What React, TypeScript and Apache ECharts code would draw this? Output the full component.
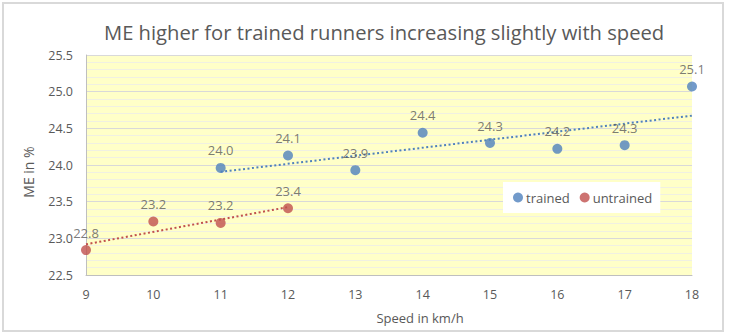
import React, { useEffect, useRef } from "react";
import * as echarts from "echarts";

const speeds = [9, 10, 11, 12, 13, 14, 15, 16, 17, 18];
const trainedSpeed = [11, 12, 13, 14, 15, 16, 17, 18];
const trainedME = [23.96, 24.13, 23.93, 24.44, 24.3, 24.22, 24.27, 25.07];
const untrainedSpeed = [9, 10, 11, 12];
const untrainedME = [22.84, 23.23, 23.21, 23.41];
const seriesNames = ["trained", "untrained"];
const titleText = "ME higher for trained runners increasing slightly with speed";
const xAxisTitle = "Speed in km/h";
const yAxisTitle = "ME in %";

function fit(xs: number[], ys: number[]): number[][] {
  const n = xs.length;
  const mx = xs.reduce((a, b) => a + b, 0) / n;
  const my = ys.reduce((a, b) => a + b, 0) / n;
  let sxy = 0;
  let sxx = 0;
  for (let i = 0; i < n; i++) {
    sxy += (xs[i] - mx) * (ys[i] - my);
    sxx += (xs[i] - mx) * (xs[i] - mx);
  }
  const b = sxy / sxx;
  const a = my - b * mx;
  const x0 = xs[0];
  const x1 = xs[n - 1];
  return [
    [x0, a + b * x0],
    [x1, a + b * x1],
  ];
}

export default function App() {
  const ref = useRef<HTMLDivElement>(null);
  useEffect(() => {
    document.body.style.margin = "0";
    const chart = echarts.init(ref.current!, undefined, { renderer: "svg" });
    const font = "'Open Sans', 'Noto Sans', sans-serif";
    const gray = "#595959";
    const blue = "#4F81BD";
    const red = "#C0504D";
    const labelCfg = {
      show: true,
      position: "top" as const,
      distance: 6,
      color: gray,
      fontSize: 13,
      fontFamily: font,
      formatter: (p: any) => p.value[1].toFixed(1),
    };
    chart.setOption({
      animation: false,
      backgroundColor: "#fff",
      textStyle: { fontFamily: font },
      title: {
        text: titleText,
        left: 99,
        top: 17,
        textStyle: { fontSize: 20.2, fontWeight: "normal", color: gray, fontFamily: font },
      },
      graphic: [
        {
          type: "rect",
          shape: { x: 3, y: 3, width: 720, height: 328 },
          style: { fill: "none", stroke: "#D9D9D9", lineWidth: 2 },
          silent: true,
        },
        {
          type: "text",
          x: 420,
          y: 318,
          style: {
            text: xAxisTitle,
            fill: gray,
            fontSize: 13,
            fontFamily: font,
            align: "center",
            verticalAlign: "middle",
          },
          silent: true,
        },
        {
          type: "text",
          x: 28,
          y: 172,
          rotation: Math.PI / 2,
          style: {
            text: yAxisTitle,
            fill: gray,
            fontSize: 14,
            fontFamily: font,
            align: "center",
            verticalAlign: "middle",
          },
          silent: true,
        },
      ],
      legend: {
        data: seriesNames,
        left: 503,
        top: 182,
        backgroundColor: "#fff",
        padding: [9, 8, 9, 10],
        itemGap: 10,
        itemWidth: 10,
        itemHeight: 10,
        icon: "circle",
        textStyle: { color: gray, fontSize: 13, fontFamily: font, padding: [0, 0, 0, -2] },
      },
      grid: {
        left: 86,
        right: 37,
        top: 55,
        bottom: 61,
        show: true,
        backgroundColor: "#FFFFC8",
        borderWidth: 0,
      },
      xAxis: {
        type: "value",
        min: speeds[0],
        max: speeds[speeds.length - 1],
        interval: 1,
        axisLine: { show: true, lineStyle: { color: "#BFBFBF" } },
        axisTick: { show: false },
        axisLabel: { color: gray, fontSize: 12.5, margin: 13, fontFamily: font },
        splitLine: { show: false },
      },
      yAxis: {
        type: "value",
        min: 22.5,
        max: 25.5,
        interval: 0.5,
        axisLine: { show: true, lineStyle: { color: "#BFBFBF" } },
        axisTick: { show: false },
        axisLabel: {
          color: gray,
          fontSize: 12.5,
          margin: 13,
          fontFamily: font,
          formatter: (v: number) => v.toFixed(1),
        },
        splitLine: { show: true, lineStyle: { color: "#D9D9D9", width: 1 } },
        minorTick: { show: false, splitNumber: 5 },
        minorSplitLine: { show: true, lineStyle: { color: "#F0F0E2", width: 1 } },
      },
      series: [
        {
          name: seriesNames[0],
          type: "scatter",
          symbolSize: 10,
          itemStyle: { color: blue },
          data: trainedSpeed.map((x, i) => [x, trainedME[i]]),
          label: labelCfg,
          z: 3,
        },
        {
          name: seriesNames[1],
          type: "scatter",
          symbolSize: 10,
          itemStyle: { color: red },
          data: untrainedSpeed.map((x, i) => [x, untrainedME[i]]),
          label: labelCfg,
          z: 3,
        },
        {
          name: "trained trend",
          type: "line",
          data: fit(trainedSpeed, trainedME),
          showSymbol: false,
          symbol: "none",
          silent: true,
          lineStyle: { color: blue, width: 2, type: [2, 2.5] },
          z: 2,
        },
        {
          name: "untrained trend",
          type: "line",
          data: fit(untrainedSpeed, untrainedME),
          showSymbol: false,
          symbol: "none",
          silent: true,
          lineStyle: { color: red, width: 2, type: [2, 2.5] },
          z: 2,
        },
      ],
    });
    return () => chart.dispose();
  }, []);
  return <div ref={ref} style={{ width: 729, height: 336 }} />;
}
